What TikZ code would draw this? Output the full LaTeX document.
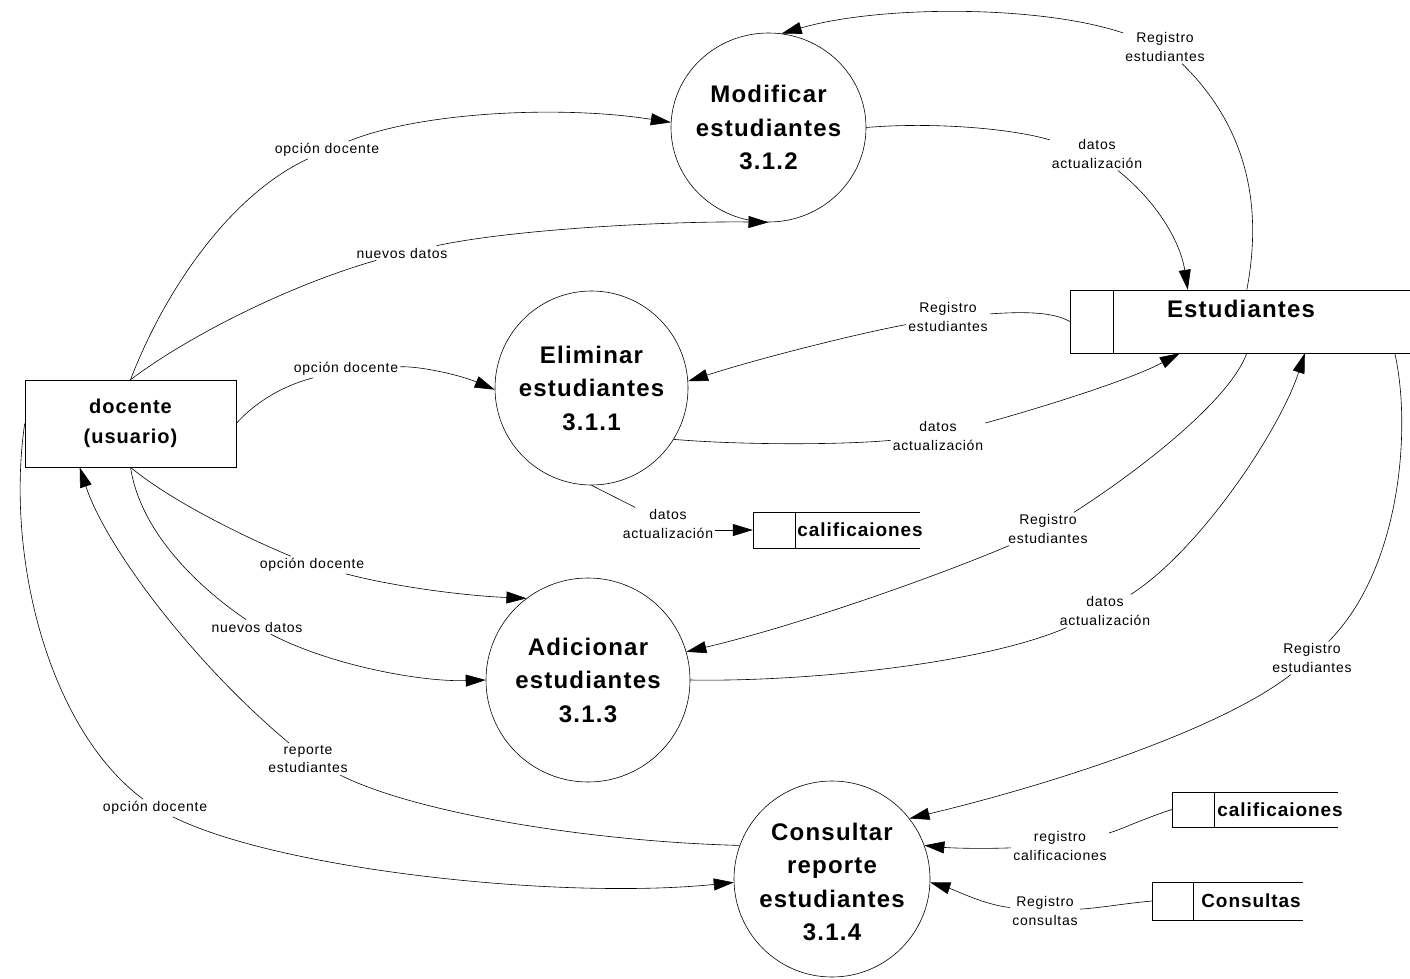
\documentclass[tikz,border=0pt]{standalone}
\usepackage{fontspec}
\setmainfont{Liberation Sans}
\newfontfamily\lblfamily[LetterSpace=5.5]{Liberation Sans}
\newfontfamily\boldfamily[LetterSpace=5]{Liberation Sans}
\usetikzlibrary{arrows.meta,shapes.geometric,calc}

\begin{document}
\begin{tikzpicture}[x=1pt,y=-1pt,
  flow/.style={line width=0.6pt},
  arr/.style={flow,-{Triangle[length=20pt,width=12pt]}},
  proc/.style={ellipse,draw,line width=0.6pt,inner sep=0pt},
  proctext/.style={align=center,inner sep=0pt,
    font=\boldfamily\bfseries\fontsize{24}{33.5}\selectfont},
  ent/.style={rectangle,draw,line width=0.6pt,align=center,
    font=\boldfamily\bfseries\fontsize{20}{30}\selectfont},
  store/.style={rectangle,inner sep=0pt},
  storetext/.style={inner sep=0pt,font=\boldfamily\bfseries\fontsize{19}{22}\selectfont},
  lbl/.style={align=center,inner sep=2pt,
    font=\lblfamily\fontsize{14}{18.5}\selectfont}
]
\useasboundingbox (0,0) rectangle (1410,979);

% processes
\node[proc,minimum width=195pt,minimum height=189pt] (mod) at (768.5,127.5) {};
\node[proctext] (modT) at (mod) {Modificar\\estudiantes\\3.1.2};
\node[proc,minimum width=193pt,minimum height=194pt] (elim) at (591.5,388) {};
\node[proctext] (elimT) at (elim) {Eliminar\\estudiantes\\3.1.1};
\node[proc,minimum width=204pt,minimum height=204pt] (adi) at (588,680) {};
\node[proctext] (adiT) at (adi) {Adicionar\\estudiantes\\3.1.3};
\node[proc,minimum width=196pt,minimum height=196pt] (con) at (832,879) {};
\node[proctext] (conT) at (832,882) {Consultar\\reporte\\estudiantes\\3.1.4};

% external entity
\node[ent,minimum width=211pt,minimum height=87pt] (doc) at (130.5,423.5) {docente\\(usuario)};

% data stores (open on the right)
\node[store,minimum width=340pt,minimum height=63pt] (est) at (1240,321.5) {};
\draw[flow] (est.north east) -- (est.north west) -- (est.south west) -- (est.south east);
\draw[flow] ($(est.north west)+(43,0)$) -- ($(est.south west)+(43,0)$);
\node[storetext,font=\boldfamily\bfseries\fontsize{24}{28}\selectfont] (estT) at (1241,309) {Estudiantes};

\node[store,minimum width=167pt,minimum height=36pt] (cal1) at (836.5,530) {};
\draw[flow] (cal1.north east) -- (cal1.north west) -- (cal1.south west) -- (cal1.south east);
\draw[flow] ($(cal1.north west)+(42,0)$) -- ($(cal1.south west)+(42,0)$);
\node[storetext] (cal1T) at (860,530) {calificaiones};

\node[store,minimum width=166pt,minimum height=35pt] (cal2) at (1255,809.5) {};
\draw[flow] (cal2.north east) -- (cal2.north west) -- (cal2.south west) -- (cal2.south east);
\draw[flow] ($(cal2.north west)+(42,0)$) -- ($(cal2.south west)+(42,0)$);
\node[storetext] (cal2T) at (1280,810) {calificaiones};

\node[store,minimum width=151pt,minimum height=38pt] (cons) at (1227.5,901) {};
\draw[flow] (cons.north east) -- (cons.north west) -- (cons.south west) -- (cons.south east);
\draw[flow] ($(cons.north west)+(41,0)$) -- ($(cons.south west)+(41,0)$);
\node[storetext] (consT) at (1251,901) {Consultas};

% docente -> Modificar
\node[lbl] (l1) at (327,150) {opción docente};
\draw[flow] (doc.north) .. controls (165,290) and (230,195) .. (l1);
\draw[arr] (l1) .. controls (420,112) and (560,105) .. (mod.177);

\node[lbl] (l2) at (402,253) {nuevos datos};
\draw[flow] (doc.north) .. controls (190,335) and (290,285) .. (l2);
\draw[arr] (l2) .. controls (520,228) and (680,221) .. (mod.south);

% docente -> Eliminar
\node[lbl] (l3) at (346,369) {opción docente};
\draw[flow] (doc.east) .. controls (250,408) and (275,388) .. (l3);
\draw[arr] (l3) .. controls (420,366) and (460,375) .. (elim.181);

% Estudiantes <-> Eliminar
\node[lbl] (l4) at (948,317) {Registro\\estudiantes};
\draw[flow] (est.west) .. controls (1055,313) and (1030,311) .. (l4);
\draw[arr] (l4) .. controls (860,333) and (760,358) .. (elim.4);

\node[lbl] (l5) at (938,436) {datos\\actualización};
\draw[flow] (elim.-32) .. controls (740,445) and (840,445) .. (l5);
\draw[arr] (l5) .. controls (1040,408) and (1130,380) .. ($(est.south west)+(110,0)$);

% Eliminar -> calificaiones
\node[lbl] (l6) at (668,524) {datos\\actualización};
\draw[flow] (elim.south) -- (l6);
\draw[arr] (l6.east |- cal1.west) -- (cal1.west);

% Estudiantes <-> Adicionar
\node[lbl] (l7) at (1048,529) {Registro\\estudiantes};
\draw[flow] ($(est.south west)+(177,0)$) .. controls (1230,400) and (1140,470) .. (l7);
\draw[arr] (l7) .. controls (940,575) and (800,625) .. (adi.16);

\node[lbl] (l8) at (1105,611) {datos\\actualización};
\draw[flow] (adi.east) .. controls (800,682) and (980,665) .. (l8);
\draw[arr] (l8) .. controls (1200,550) and (1280,430) .. ($(est.south west)+(235,0)$);

% stores -> Consultar
\node[lbl] (l9) at (1312,658) {Registro\\estudiantes};
\draw[flow] ($(est.south west)+(325,0)$) .. controls (1412,430) and (1400,570) .. (l9);
\draw[arr] (l9) .. controls (1220,730) and (1050,785) .. (con.38);

\node[lbl] (l10) at (1060,846) {registro\\calificaciones};
\draw[flow] (cal2.west) .. controls (1140,820) and (1120,830) .. (l10);
\draw[arr] (l10) .. controls (980,849) and (950,848) .. (con.20);

\node[lbl] (l11) at (1045,911) {Registro\\consultas};
\draw[flow] (cons.west) .. controls (1120,904) and (1100,908) .. (l11);
\draw[arr] (l11) .. controls (985,905) and (955,890) .. (con.-2);

% Consultar -> docente
\node[lbl] (l12) at (308,759) {reporte\\estudiantes};
\draw[flow] (con.160) .. controls (600,842) and (420,815) .. (l12);
\draw[arr] (l12) .. controls (190,660) and (105,545) .. ($(doc.south west)+(55,0)$);

% docente -> Consultar
\node[lbl] (l13) at (155,808) {opción docente};
\draw[flow] (doc.west) .. controls (5,560) and (50,730) .. (l13);
\draw[arr] (l13) .. controls (280,870) and (560,900) .. (con.182);

% docente -> Adicionar
\node[lbl] (l14) at (312,565) {opción docente};
\draw[flow] (doc.south) .. controls (170,500) and (240,535) .. (l14);
\draw[arr] (l14) .. controls (400,588) and (470,596) .. (adi.127);

\node[lbl] (l15) at (257,627) {nuevos datos};
\draw[flow] (doc.south) .. controls (140,530) and (195,585) .. (l15);
\draw[arr] (l15) .. controls (330,665) and (420,682) .. (adi.west);

% Modificar <-> Estudiantes
\node[lbl] (l16) at (1097,154) {datos\\actualización};
\draw[flow] (mod.east) .. controls (930,122) and (1010,128) .. (l16);
\draw[arr] (l16) .. controls (1155,200) and (1180,240) .. ($(est.north west)+(118,0)$);

\node[lbl] (l17) at (1165,47) {Registro\\estudiantes};
\draw[flow] ($(est.north west)+(177,0)$) .. controls (1262,210) and (1250,130) .. (l17);
\draw[arr] (l17) .. controls (1040,5) and (880,5) .. (mod.82);
\end{tikzpicture}
\end{document}
